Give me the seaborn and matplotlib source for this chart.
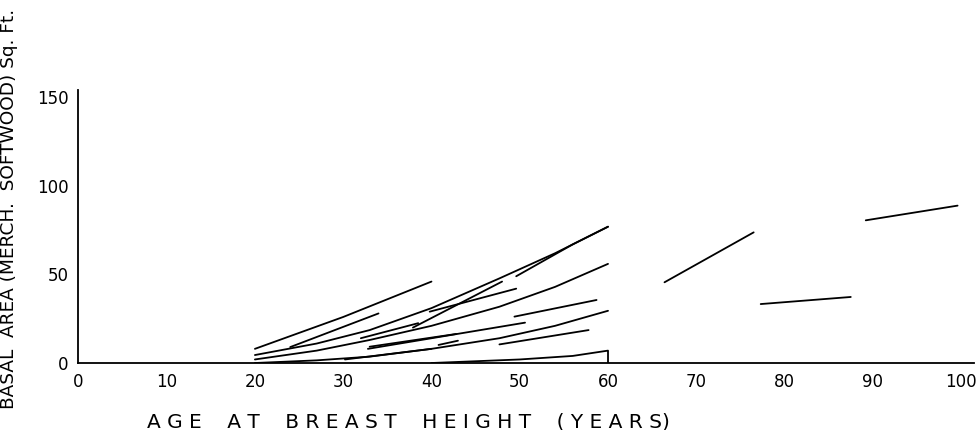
import matplotlib
matplotlib.use("Agg")
import matplotlib.pyplot as plt
import seaborn as sns
import pandas as pd

# Growth segments: age at breast height (years) vs basal area (sq ft)
seg_ids = ["L1", "L2", "L3", "L4", "L5", "L6", "L7", "L8", "L9", "L10",
           "L11", "L12", "L13", "L14", "L15", "L16", "R1", "R2", "R3"]
seg_ages = [
    [20, 30, 40],
    [24, 34],
    [20, 27, 33, 40, 47.7, 54, 60],
    [20, 27, 33, 40, 47.7, 54, 60],
    [32, 38.5],
    [37.9, 48],
    [39.8, 49.6],
    [49.6, 56, 60],
    [33, 42.8],
    [49.4, 58.7],
    [20, 27, 33, 40, 47.7, 54, 60],
    [47.7, 57.8],
    [32.8, 50.6],
    [30.2, 40],
    [40.8, 43],
    [40, 50, 56, 60, 60],
    [66.4, 76.5],
    [77.3, 87.5],
    [89.2, 99.6],
]
seg_ba = [
    [8, 26, 46],
    [9, 28],
    [4.5, 11, 18.6, 31, 47.8, 62, 77],
    [2, 7, 13, 21, 31.8, 43, 56],
    [14, 22.5],
    [20, 46],
    [29, 42],
    [49, 67, 77],
    [9.2, 16.4],
    [26.2, 35.6],
    [0, 1.5, 3.6, 8, 14, 21, 29.5],
    [10.5, 18.6],
    [8, 22.8],
    [2, 8],
    [10.2, 12.6],
    [0, 2, 4, 7, 0],
    [45.6, 73.8],
    [33.3, 37.3],
    [80.6, 88.9],
]
x_ticks = [0, 10, 20, 30, 40, 50, 60, 70, 80, 90, 100]
x_ticklabels = ["0", "10", "20", "30", "40", "50", "60", "70", "80", "90", "100"]
y_ticks = [0, 50, 100, 150]
y_ticklabels = ["0", "50", "100", "150"]

rows = []
for sid, ages, bas in zip(seg_ids, seg_ages, seg_ba):
    for i, (a, b) in enumerate(zip(ages, bas)):
        rows.append({"seg": sid, "order": i, "age": a, "ba": b})
df = pd.DataFrame(rows)

sns.set_style("white")
plt.rcParams["font.family"] = ["DejaVu Sans"]
plt.rcParams["text.color"] = "black"
plt.rcParams["axes.labelcolor"] = "black"

fig = plt.figure(figsize=(9.76, 4.30), dpi=100)
ax = fig.add_axes([0.0803, 0.1558, 0.918, 0.634])

sns.lineplot(data=df, x="age", y="ba", units="seg", estimator=None, sort=False,
             color="black", linewidth=1.3, ax=ax, legend=False)

ax.set_xlim(0, 101.5)
ax.set_ylim(0, 154)
for s in ["top", "right"]:
    ax.spines[s].set_visible(False)
for s in ["left", "bottom"]:
    ax.spines[s].set_color("black")
    ax.spines[s].set_linewidth(1.3)

ax.set_xticks(x_ticks)
ax.set_xticklabels(x_ticklabels, fontsize=12, color="black")
ax.set_yticks(y_ticks)
ax.set_yticklabels(y_ticklabels, fontsize=12, color="black")
ax.tick_params(axis="x", direction="inout", length=12, width=1.3, pad=1, colors="black")
ax.tick_params(axis="y", direction="inout", length=10, width=1.3, pad=2, colors="black")

ax.set_xlabel("A G E    A T    B R E A S T    H E I G H T    ( Y E A R S)",
              fontsize=14.5, color="black")
ax.xaxis.set_label_coords(0.368, -0.18)
ax.set_ylabel("BASAL  AREA (MERCH.  SOFTWOOD) Sq. Ft.", fontsize=13.3, color="black")
ax.yaxis.set_label_coords(-0.067, 0.565)

fig.savefig("out.png", dpi=100, facecolor="white")
